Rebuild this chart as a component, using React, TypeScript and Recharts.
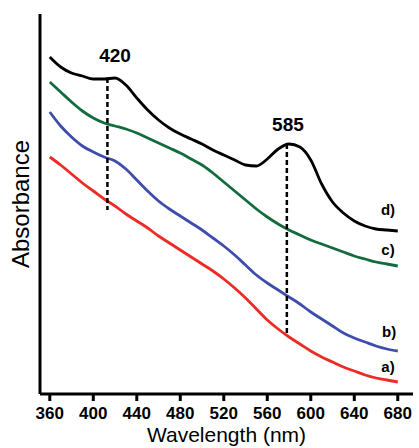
import { LineChart, Line, XAxis, YAxis, ReferenceLine, ReferenceDot } from "recharts"

const wavelengths = [
  360, 370, 380, 390, 400, 410, 420, 430, 440, 450, 460, 470, 480, 490, 500, 510, 520,
  530, 540, 550, 560, 570, 580, 590, 600, 610, 620, 630, 640, 650, 660, 670, 680,
]

// a) red
const curveA = [
  2.37, 2.29, 2.20, 2.11, 2.03, 1.95, 1.88, 1.80, 1.73, 1.66, 1.58, 1.51, 1.44, 1.37, 1.30, 1.23, 1.15,
  1.06, 0.96, 0.85, 0.74, 0.65, 0.57, 0.50, 0.43, 0.37, 0.32, 0.27, 0.23, 0.19, 0.16, 0.14, 0.12,
]
// b) blue
const curveB = [
  2.82, 2.68, 2.57, 2.48, 2.42, 2.37, 2.33, 2.25, 2.14, 2.03, 1.93, 1.85, 1.78, 1.71, 1.64, 1.56, 1.48,
  1.39, 1.29, 1.19, 1.11, 1.04, 0.97, 0.90, 0.82, 0.75, 0.68, 0.61, 0.56, 0.52, 0.48, 0.45, 0.43,
]
// c) green
const curveC = [
  3.12, 3.02, 2.92, 2.83, 2.76, 2.71, 2.68, 2.65, 2.61, 2.56, 2.51, 2.46, 2.41, 2.35, 2.29, 2.21, 2.12,
  2.03, 1.94, 1.85, 1.77, 1.70, 1.64, 1.59, 1.54, 1.50, 1.46, 1.42, 1.38, 1.35, 1.32, 1.30, 1.28,
]
// d) black
const curveD = [
  3.37, 3.27, 3.21, 3.18, 3.15, 3.15, 3.16, 3.09, 2.96, 2.84, 2.74, 2.66, 2.60, 2.55, 2.50, 2.44, 2.39,
  2.34, 2.29, 2.28, 2.35, 2.45, 2.50, 2.47, 2.34, 2.10, 1.92, 1.81, 1.73, 1.68, 1.65, 1.64, 1.63,
]

const xTicks = [360, 400, 440, 480, 520, 560, 600, 640, 680]

// dashed peak markers and their labels
const peaks = [
  { label: "420", x: 413, y1: 3.16, y2: 1.84, labelX: 420, labelY: 3.39 },
  { label: "585", x: 578, y1: 2.50, y2: 0.58, labelX: 579, labelY: 2.70 },
]

const curveLabels = [
  { text: "d)", x: 671, y: 1.84 },
  { text: "c)", x: 671, y: 1.44 },
  { text: "b)", x: 672, y: 0.62 },
  { text: "a)", x: 671, y: 0.27 },
]

const data = wavelengths.map((w, i) => ({
  w,
  a: curveA[i],
  b: curveB[i],
  c: curveC[i],
  d: curveD[i],
}))

const font = "'Liberation Sans', Arial, sans-serif"

export default function App() {
  return (
    <div style={{ position: "absolute", left: 0, top: 0, width: 419, height: 448, background: "#fff" }}>
      <LineChart
        width={419}
        height={448}
        data={data}
        margin={{ top: 14, right: 6, bottom: 0, left: 0 }}
        style={{ fontFamily: font }}
      >
        <XAxis
          dataKey="w"
          type="number"
          domain={[351, 694]}
          ticks={xTicks}
          allowDataOverflow
          height={54}
          axisLine={{ stroke: "#000", strokeWidth: 3 }}
          tickLine={{ stroke: "#000", strokeWidth: 3 }}
          tickSize={7}
          tickMargin={6}
          tick={{ fill: "#000", fontSize: 17, fontWeight: "bold", fontFamily: font }}
          label={{ value: "Wavelength (nm)", position: "insideBottom", offset: 6, fill: "#000", fontSize: 21, fontFamily: font }}
        />
        <XAxis
          xAxisId="top"
          orientation="top"
          type="number"
          domain={[351, 694]}
          height={0}
          tick={false}
          tickLine={false}
          axisLine={{ stroke: "#000", strokeWidth: 3 }}
        />
        <YAxis
          type="number"
          domain={[0, 3.8]}
          allowDataOverflow
          width={40}
          tick={false}
          tickLine={false}
          axisLine={{ stroke: "#000", strokeWidth: 3 }}
          label={{ value: "Absorbance", angle: -90, position: "center", fill: "#000", fontSize: 24, fontFamily: font }}
        />
        <YAxis
          yAxisId="right"
          orientation="right"
          type="number"
          domain={[0, 3.8]}
          width={0}
          tick={false}
          tickLine={false}
          axisLine={{ stroke: "#000", strokeWidth: 3 }}
        />
        <Line dataKey="a" type="monotone" stroke="#ee2a24" strokeWidth={2.8} dot={false} isAnimationActive={false} />
        <Line dataKey="b" type="monotone" stroke="#3e4dac" strokeWidth={2.8} dot={false} isAnimationActive={false} />
        <Line dataKey="c" type="monotone" stroke="#146b3e" strokeWidth={2.8} dot={false} isAnimationActive={false} />
        <Line dataKey="d" type="monotone" stroke="#000" strokeWidth={2.8} dot={false} isAnimationActive={false} />
        {peaks.map((p) => (
          <ReferenceLine
            key={"l" + p.label}
            segment={[{ x: p.x, y: p.y1 }, { x: p.x, y: p.y2 }]}
            stroke="#000"
            strokeWidth={2.5}
            strokeDasharray="5 3"
          />
        ))}
        {peaks.map((p) => (
          <ReferenceDot
            key={"t" + p.label}
            x={p.labelX}
            y={p.labelY}
            r={0}
            stroke="none"
            fill="none"
            label={{ value: p.label, position: "center", fill: "#000", fontSize: 19, fontWeight: "bold", fontFamily: font }}
          />
        ))}
        {curveLabels.map((c) => (
          <ReferenceDot
            key={c.text}
            x={c.x}
            y={c.y}
            r={0}
            stroke="none"
            fill="none"
            label={{ value: c.text, position: "center", fill: "#000", fontSize: 15, fontWeight: "bold", fontFamily: font }}
          />
        ))}
      </LineChart>
    </div>
  )
}
